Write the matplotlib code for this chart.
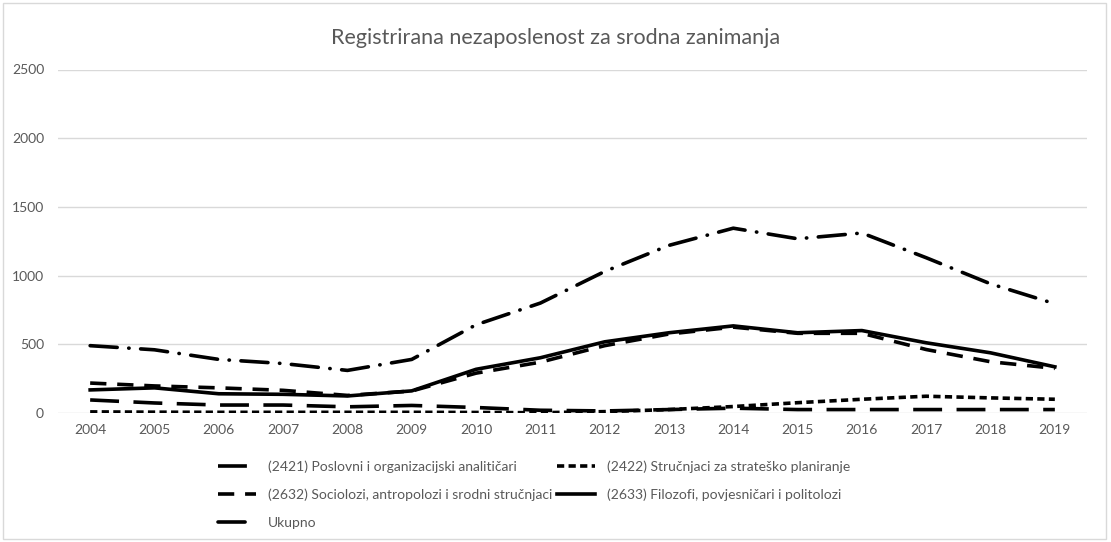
import matplotlib
matplotlib.use("Agg")
import matplotlib.pyplot as plt
from matplotlib.patches import Rectangle
from matplotlib.lines import Line2D

years = ["2004", "2005", "2006", "2007", "2008", "2009", "2010", "2011",
         "2012", "2013", "2014", "2015", "2016", "2017", "2018", "2019"]
poslovni = [95, 73, 58, 58, 45, 55, 40, 20, 15, 25, 35, 25, 25, 25, 25, 25]
strucnjaci = [8, 6, 5, 5, 5, 5, 4, 2, 10, 25, 47, 75, 100, 122, 110, 100]
sociolozi = [218, 197, 183, 165, 128, 160, 290, 370, 490, 575, 625, 580, 580, 462, 373, 325]
filozofi = [168, 183, 140, 136, 124, 161, 318, 402, 518, 584, 634, 584, 600, 511, 438, 336]
ukupno = [490, 460, 390, 360, 310, 390, 642, 800, 1030, 1220, 1345, 1268, 1310, 1130, 940, 795]

names = ["(2421) Poslovni i organizacijski analitičari",
         "(2422) Stručnjaci za strateško planiranje",
         "(2632) Sociolozi, antropolozi i srodni stručnjaci",
         "(2633) Filozofi, povjesničari i politolozi",
         "Ukupno"]

plt.rcParams['font.family'] = ['Lato', 'DejaVu Sans']
W, H = 1111, 542
fig = plt.figure(figsize=(W / 100, H / 100), dpi=100)
ax = fig.add_axes([58 / W, 1 - 413 / H, (1087 - 58) / W, (413 - 69.5) / H])

x = list(range(len(years)))
lw = 2.6
styles = [
    dict(dashes=(8, 4)),
    dict(dashes=(2.0, 1.2)),
    dict(dashes=(4.5, 3)),
    dict(linestyle='-'),
    dict(dashes=(7.5, 3.2, 0.1, 3.2), dash_capstyle='round'),
]
series = [poslovni, strucnjaci, sociolozi, filozofi, ukupno]
for s, st, n in zip(series, styles, names):
    ax.plot(x, s, color='black', lw=lw, label=n, solid_joinstyle='round', **st)

ax.set_xlim(-0.5, len(years) - 0.5)
ax.set_ylim(0, 2500)
ax.set_yticks([0, 500, 1000, 1500, 2000, 2500])
ax.set_xticks(x)
ax.set_xticklabels(years)
ax.grid(axis='y', color='#d9d9d9', lw=1)
ax.set_axisbelow(True)
for sp in ax.spines.values():
    sp.set_visible(False)
ax.tick_params(length=0, colors='#595959', labelsize=10)
ax.tick_params(axis='x', pad=8)
ax.tick_params(axis='y', pad=10)

fig.text(0.5, 1 - 38 / H, "Registrirana nezaposlenost za srodna zanimanja",
         ha='center', va='center', fontsize=15.5, color='#595959')

order = [0, 2, 4, 1, 3]
leg_handles = []
for i in order:
    leg_handles.append(Line2D([], [], color='black', lw=lw, **styles[i]))
leg = fig.legend(leg_handles, [names[i] for i in order], ncol=2,
                 loc='upper left', bbox_to_anchor=(218 / W, 1 - 460 / H),
                 frameon=False, borderpad=0, borderaxespad=0,
                 handlelength=2.7, handletextpad=0.9, columnspacing=0.35,
                 labelspacing=1.15, fontsize=10)
for t in leg.get_texts():
    t.set_color('#595959')

fig.patches.append(Rectangle((3 / W, 3 / H), (1106 - 3) / W, (539 - 3) / H,
                             transform=fig.transFigure, fill=False,
                             edgecolor='#d9d9d9', lw=1))
fig.savefig("out.png", dpi=100)
